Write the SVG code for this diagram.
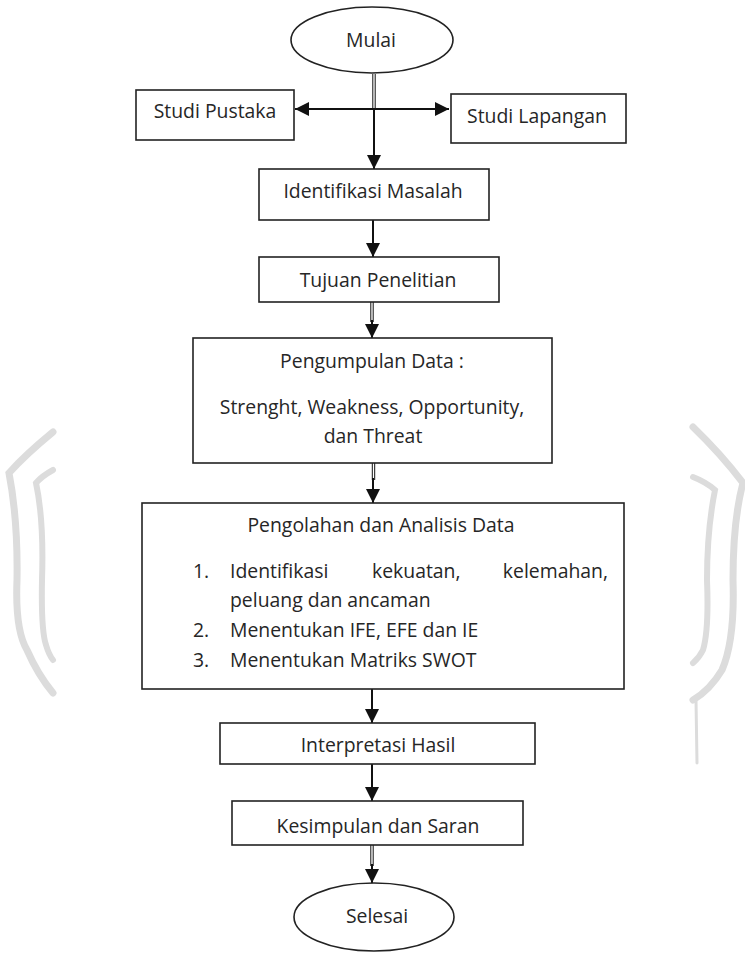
<svg xmlns="http://www.w3.org/2000/svg" width="745" height="953" viewBox="0 0 745 953">
<style>
.box{fill:#fff;stroke:#222;stroke-width:1.6}
.t{font-family:"Open Sans","Noto Sans","DejaVu Sans",sans-serif;font-size:19.4px;fill:#262626}
.c{text-anchor:middle}
.ln{stroke:#111;stroke-width:2;fill:none}
.thin{stroke:#111;stroke-width:1;fill:none}
.wm{stroke:#dcdcdc;fill:none;stroke-linecap:round}
</style>
<defs>
<marker id="ah" viewBox="0 0 14 14" refX="14" refY="7" markerWidth="14" markerHeight="14" markerUnits="userSpaceOnUse" orient="auto-start-reverse">
<path d="M0,0 L14,7 L0,14 z" fill="#111"/>
</marker>
</defs>
<rect width="745" height="953" fill="#fff"/>
<g id="watermark">
<path class="wm" stroke-width="7" d="M53,432 Q25,455 9,473 Q18,520 17,580 Q15,630 27,650 Q38,675 53,693"/>
<path class="wm" stroke-width="6" d="M53,470 Q42,476 36,483 Q44,520 42,580 Q41,630 46,645 Q49,655 53,660"/>
<path class="wm" stroke-width="7" d="M693,427 Q722,455 743,483 Q733,520 733,580 Q735,640 722,670 Q710,690 693,700"/>
<path class="wm" stroke-width="6" d="M693,477 Q706,482 715,490 Q707,530 707,580 Q709,630 703,650 Q699,658 693,663"/>
<path class="wm" stroke-width="3" d="M696,700 L697,763"/>
</g>
<g id="connectors">
<path class="thin" d="M372.8,74 V110 M375.2,74 V110"/>
<path class="ln" d="M374,108 V169" marker-end="url(#ah)"/>
<path class="ln" d="M295,109 H449" marker-start="url(#ah)" marker-end="url(#ah)"/>
<path class="ln" d="M373,220 V257" marker-end="url(#ah)"/>
<path class="thin" d="M370.8,302 V322 M373.2,302 V322"/>
<path class="ln" d="M372,320 V338" marker-end="url(#ah)"/>
<path class="thin" d="M372.3,463 V480 M374.7,463 V480"/>
<path class="ln" d="M373,478 V503" marker-end="url(#ah)"/>
<path class="ln" d="M372,689 V723" marker-end="url(#ah)"/>
<path class="ln" d="M372,764 V801" marker-end="url(#ah)"/>
<path class="thin" d="M370.8,845 V866 M373.2,845 V866"/>
<path class="ln" d="M372,864 V883" marker-end="url(#ah)"/>
</g>
<g id="mulai">
<ellipse class="box" cx="372" cy="40" rx="81" ry="33"/>
<text class="t c" x="371" y="47">Mulai</text>
</g>
<g id="studi-pustaka">
<rect class="box" x="136" y="90" width="158" height="50"/>
<text class="t c" x="215" y="118">Studi Pustaka</text>
</g>
<g id="studi-lapangan">
<rect class="box" x="451" y="94" width="175" height="49"/>
<text class="t c" x="537" y="123">Studi Lapangan</text>
</g>
<g id="identifikasi">
<rect class="box" x="259" y="169" width="230" height="51"/>
<text class="t c" x="373" y="198">Identifikasi Masalah</text>
</g>
<g id="tujuan">
<rect class="box" x="259" y="257" width="240" height="45"/>
<text class="t c" x="378" y="287">Tujuan Penelitian</text>
</g>
<g id="pengumpulan">
<rect class="box" x="193" y="338" width="359" height="125"/>
<text class="t c" x="372" y="368">Pengumpulan Data :</text>
<text class="t c" x="372" y="414">Strenght, Weakness, Opportunity,</text>
<text class="t c" x="373" y="443">dan Threat</text>
</g>
<g id="pengolahan">
<rect class="box" x="142" y="503" width="482" height="186"/>
<text class="t c" x="381" y="532">Pengolahan dan Analisis Data</text>
<text class="t" x="193" y="578">1.</text>
<text class="t" x="230" y="578">Identifikasi</text>
<text class="t" x="372" y="578">kekuatan,</text>
<text class="t" x="608" y="578" text-anchor="end">kelemahan,</text>
<text class="t" x="230" y="607">peluang dan ancaman</text>
<text class="t" x="193" y="637">2.</text>
<text class="t" x="230" y="637">Menentukan IFE, EFE dan IE</text>
<text class="t" x="193" y="667">3.</text>
<text class="t" x="230" y="667">Menentukan Matriks SWOT</text>
</g>
<g id="interpretasi">
<rect class="box" x="220" y="723" width="315" height="41"/>
<text class="t c" x="378" y="752">Interpretasi Hasil</text>
</g>
<g id="kesimpulan">
<rect class="box" x="232" y="801" width="291" height="44"/>
<text class="t c" x="378" y="833">Kesimpulan dan Saran</text>
</g>
<g id="selesai">
<ellipse class="box" cx="374" cy="917" rx="80" ry="34"/>
<text class="t c" x="377" y="923">Selesai</text>
</g>
</svg>
